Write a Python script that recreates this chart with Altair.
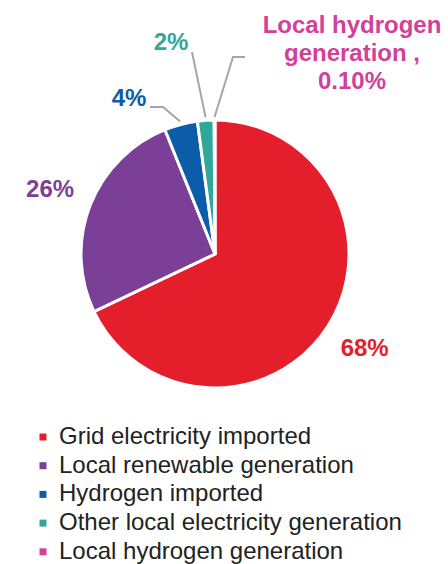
import math
import altair as alt
import pandas as pd

# ---------------- data ----------------
categories = [
    "Grid electricity imported",
    "Local renewable generation",
    "Hydrogen imported",
    "Other local electricity generation",
    "Local hydrogen generation",
]
shares = [68, 26, 4, 2, 0.1]
share_labels = ["68%", "26%", "4%", "2%", "0.10%"]
colors = ["#E41E2B", "#7B3F97", "#0B5DAA", "#2FA79B", "#D1409A"]

# ---------------- layout ----------------
W, H = 448, 564
CX, CY, R = 215, 254, 134
BIG_LABEL_R = 177
LEADER_R = 137
FONT = "Liberation Sans"

df = pd.DataFrame({
    "category": categories,
    "share": shares,
    "idx": list(range(len(categories))),
    "big": [l if s >= 10 else "" for s, l in zip(shares, share_labels)],
})

# callout labels for the small slices (label anchor + leader path start)
callout_pos = {
    "Hydrogen imported": dict(x=129, y=99, path=[(150, 107), (163, 107)]),
    "Other local electricity generation": dict(x=171, y=43, path=[(192, 52)]),
    "Local hydrogen generation": dict(x=352, y=33, path=[(245, 57), (233, 57)]),
}

total = sum(shares)
cum = 0.0
mid_angle = {}
for c, s in zip(categories, shares):
    mid_angle[c] = 2 * math.pi * (cum + s / 2) / total
    cum += s

call_rows = []
line_rows = []
for c, s, lab in zip(categories, shares, share_labels):
    if c not in callout_pos:
        continue
    p = callout_pos[c]
    if c == "Local hydrogen generation":
        text = "Local hydrogen\ngeneration ,\n" + lab
        baseline = "alphabetic"
    else:
        text = lab
        baseline = "middle"
    call_rows.append(dict(category=c, text=text, x=p["x"], y=p["y"], baseline=baseline))
    pts = list(p["path"])
    a = mid_angle[c]
    pts.append((CX + LEADER_R * math.sin(a), CY - LEADER_R * math.cos(a)))
    for k, (x, y) in enumerate(pts):
        line_rows.append(dict(category=c, x=x, y=y, k=k))

call_df = pd.DataFrame(call_rows)
line_df = pd.DataFrame(line_rows)

color_scale = alt.Scale(domain=categories, range=colors)

pie = alt.Chart(df).mark_arc(outerRadius=R, stroke="white", strokeWidth=3).encode(
    theta=alt.Theta("share:Q", stack=True),
    order=alt.Order("idx:Q"),
    color=alt.Color(
        "category:N",
        scale=color_scale,
        sort=categories,
        legend=alt.Legend(
            title=None,
            orient="none",
            legendX=31,
            legendY=425,
            padding=0,
            symbolType="square",
            symbolSize=49,
            symbolStrokeWidth=0,
            labelFont=FONT,
            labelFontSize=24,
            labelColor="#222222",
            labelOffset=4,
            labelLimit=0,
            rowPadding=4.7,
        ),
    ),
    x=alt.value(CX),
    y=alt.value(CY),
)

big_labels = alt.Chart(df).mark_text(
    radius=BIG_LABEL_R, font=FONT, fontSize=24, fontWeight="bold",
    align="center", baseline="middle",
).encode(
    theta=alt.Theta("share:Q", stack=True),
    order=alt.Order("idx:Q"),
    text="big:N",
    color=alt.Color("category:N", scale=color_scale, legend=None),
    x=alt.value(CX),
    y=alt.value(CY),
)

leaders = alt.Chart(line_df).mark_line(color="#A6A6A6", strokeWidth=2).encode(
    x=alt.X("x:Q", scale=None),
    y=alt.Y("y:Q", scale=None),
    detail="category:N",
    order="k:Q",
)

small_mid = alt.Chart(call_df).transform_filter(alt.datum.baseline == "middle").mark_text(
    font=FONT, fontSize=24, fontWeight="bold", align="center", baseline="middle",
).encode(
    x=alt.X("x:Q", scale=None),
    y=alt.Y("y:Q", scale=None),
    text="text:N",
    color=alt.Color("category:N", scale=color_scale, legend=None),
)

small_multi = alt.Chart(call_df).transform_filter(alt.datum.baseline == "alphabetic").mark_text(
    font=FONT, fontSize=24, fontWeight="bold", align="center", baseline="alphabetic",
    lineBreak="\n", lineHeight=28,
).encode(
    x=alt.X("x:Q", scale=None),
    y=alt.Y("y:Q", scale=None),
    text="text:N",
    color=alt.Color("category:N", scale=color_scale, legend=None),
)

chart = alt.layer(pie, big_labels, leaders, small_mid, small_multi).properties(
    width=W, height=H, autosize="none", padding=0, background="white",
).configure_view(strokeWidth=0)

chart.save("out.html", embed_options={"renderer": "svg", "actions": False})
